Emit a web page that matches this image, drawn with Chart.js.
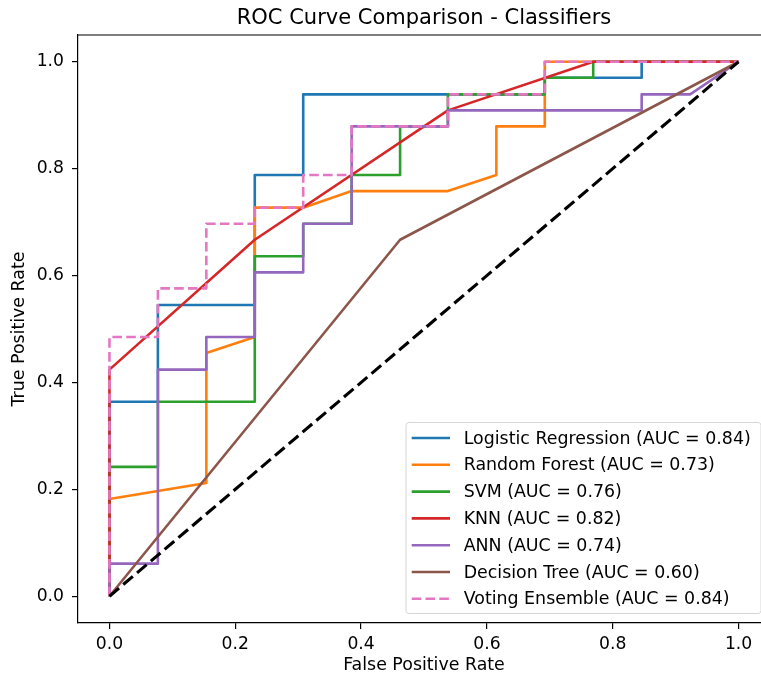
<!DOCTYPE html>
<html>
<head>
<meta charset="utf-8">
<script src="https://cdn.jsdelivr.net/npm/chart.js@4.4.1/dist/chart.umd.min.js"></script>
<style>
html,body{margin:0;padding:0;background:#fff;overflow:hidden;}
#wrap{width:800px;height:682px;}
</style>
</head>
<body>
<div id="wrap"><canvas id="c" width="800" height="682"></canvas></div>
<script>
// ---------- data ----------
const chartTitle = 'ROC Curve Comparison - Classifiers';
const modelNames = ['Logistic Regression', 'Random Forest', 'SVM', 'KNN', 'ANN', 'Decision Tree', 'Voting Ensemble'];
const aucValues = ['0.84', '0.73', '0.76', '0.82', '0.74', '0.60', '0.84'];
const modelColors = ['#1f77b4', '#ff7f0e', '#2ca02c', '#d62728', '#9467bd', '#8c564b', '#e377c2'];

const lrFpr = [0, 0, 0.077, 0.077, 0.231, 0.231, 0.308, 0.308, 0.692, 0.692, 0.846, 0.846, 1];
const lrTpr = [0, 0.364, 0.364, 0.545, 0.545, 0.788, 0.788, 0.939, 0.939, 0.970, 0.970, 1, 1];

const rfFpr = [0, 0, 0.154, 0.154, 0.231, 0.231, 0.308, 0.385, 0.538, 0.615, 0.615, 0.692, 0.692, 1];
const rfTpr = [0, 0.182, 0.212, 0.455, 0.485, 0.727, 0.727, 0.758, 0.758, 0.788, 0.879, 0.879, 1, 1];

const svmFpr = [0, 0, 0.077, 0.077, 0.231, 0.231, 0.308, 0.308, 0.385, 0.385, 0.462, 0.462, 0.538, 0.538, 0.692, 0.692, 0.769, 0.769, 1];
const svmTpr = [0, 0.242, 0.242, 0.364, 0.364, 0.636, 0.636, 0.697, 0.697, 0.788, 0.788, 0.879, 0.879, 0.939, 0.939, 0.970, 0.970, 1, 1];

const knnFpr = [0, 0, 0.231, 0.538, 0.769, 1];
const knnTpr = [0, 0.424, 0.667, 0.909, 1, 1];

const annFpr = [0, 0, 0.077, 0.077, 0.154, 0.154, 0.231, 0.231, 0.308, 0.308, 0.385, 0.385, 0.538, 0.538, 0.846, 0.846, 0.923, 1];
const annTpr = [0, 0.061, 0.061, 0.424, 0.424, 0.485, 0.485, 0.606, 0.606, 0.697, 0.697, 0.879, 0.879, 0.909, 0.909, 0.939, 0.939, 1];

const dtFpr = [0, 0.462, 1];
const dtTpr = [0, 0.667, 1];

const veFpr = [0, 0, 0.077, 0.077, 0.154, 0.154, 0.231, 0.231, 0.308, 0.308, 0.385, 0.385, 0.538, 0.538, 0.692, 0.692, 1];
const veTpr = [0, 0.485, 0.485, 0.576, 0.576, 0.697, 0.697, 0.727, 0.727, 0.788, 0.788, 0.879, 0.879, 0.939, 0.939, 1, 1];

const chanceFpr = [0, 1];
const chanceTpr = [0, 1];

const xTickValues = [0, 0.2, 0.4, 0.6, 0.8, 1.0];
const yTickValues = [0, 0.2, 0.4, 0.6, 0.8, 1.0];

const fprList = [lrFpr, rfFpr, svmFpr, knnFpr, annFpr, dtFpr, veFpr];
const tprList = [lrTpr, rfTpr, svmTpr, knnTpr, annTpr, dtTpr, veTpr];

// ---------- build ----------
const FONT = 'DejaVu Sans';
const toPts = (xs, ys) => xs.map((x, i) => ({x: x, y: ys[i]}));

const datasets = modelNames.map((name, i) => ({
  label: name + ' (AUC = ' + aucValues[i] + ')',
  data: toPts(fprList[i], tprList[i]),
  borderColor: modelColors[i],
  backgroundColor: modelColors[i],
  borderWidth: 2.6,
  borderDash: name === 'Voting Ensemble' ? [9.6, 4.2] : [],
  borderJoinStyle: 'round',
  showLine: true,
  pointRadius: 0,
  fill: false,
  tension: 0,
  order: modelNames.length - i
}));
datasets.push({
  label: '_chance',
  data: toPts(chanceFpr, chanceTpr),
  borderColor: '#000',
  borderWidth: 3.1,
  borderDash: [12.6, 5.5],
  showLine: true,
  pointRadius: 0,
  fill: false,
  order: 0
});

const framePlugin = {
  id: 'frame',
  afterDraw(chart) {
    const {ctx, chartArea: a} = chart;
    ctx.save();
    ctx.strokeStyle = '#000';
    ctx.lineWidth = 1.2;
    ctx.beginPath();
    ctx.moveTo(a.left, a.top);
    ctx.lineTo(a.right, a.top);
    ctx.lineTo(a.right, a.bottom);
    ctx.stroke();
    // title centred over the plot area
    ctx.fillStyle = '#000';
    ctx.font = '21px "' + FONT + '"';
    ctx.textAlign = 'center';
    ctx.textBaseline = 'alphabetic';
    ctx.fillText(chartTitle, (a.left + a.right) / 2, 24);
    ctx.restore();
  }
};

const legendPlugin = {
  id: 'innerLegend',
  afterDraw(chart) {
    const {ctx, chartArea: a} = chart;
    const items = chart.data.datasets.filter(d => !d.label.startsWith('_'));
    const w = 355, rowH = 26.8;
    const h = 191;
    const right = a.right - 9, bottom = a.bottom - 9.5;
    const left = right - w, top = bottom - h;
    ctx.save();
    const r = 3;
    ctx.beginPath();
    ctx.moveTo(left + r, top);
    ctx.lineTo(right - r, top);
    ctx.quadraticCurveTo(right, top, right, top + r);
    ctx.lineTo(right, bottom - r);
    ctx.quadraticCurveTo(right, bottom, right - r, bottom);
    ctx.lineTo(left + r, bottom);
    ctx.quadraticCurveTo(left, bottom, left, bottom - r);
    ctx.lineTo(left, top + r);
    ctx.quadraticCurveTo(left, top, left + r, top);
    ctx.closePath();
    ctx.fillStyle = 'rgba(255,255,255,0.8)';
    ctx.fill();
    ctx.strokeStyle = '#d6d6d6';
    ctx.lineWidth = 1;
    ctx.stroke();
    ctx.font = '17.4px "' + FONT + '"';
    ctx.textBaseline = 'middle';
    ctx.textAlign = 'left';
    items.forEach((d, i) => {
      const y = top + 15.5 + i * rowH;
      ctx.strokeStyle = d.borderColor;
      ctx.lineWidth = d.borderWidth;
      ctx.setLineDash(d.borderDash || []);
      ctx.beginPath();
      ctx.moveTo(left + 5.7, y);
      ctx.lineTo(left + 44, y);
      ctx.stroke();
      ctx.setLineDash([]);
      ctx.fillStyle = '#000';
      ctx.fillText(d.label, left + 57.7, y + 1);
    });
    ctx.restore();
  }
};

const tickFont = {family: FONT, size: 17.2};
const titleFont = {family: FONT, size: 17.4};

new Chart(document.getElementById('c'), {
  type: 'scatter',
  data: {datasets: datasets},
  plugins: [framePlugin, legendPlugin],
  options: {
    responsive: false,
    animation: false,
    devicePixelRatio: 1,
    layout: {padding: {left: 0, right: 30, top: 35, bottom: 0}},
    plugins: {
      legend: {display: false},
      tooltip: {enabled: false},
      title: {display: false}
    },
    scales: {
      x: {
        type: 'linear',
        min: -0.05, max: 1.05,
        afterFit(s) { s.height = 59; },
        afterBuildTicks(s) { s.ticks = xTickValues.map(v => ({value: v})); },
        ticks: {color: '#000', font: tickFont, padding: 5, maxRotation: 0,
                callback: v => Number(v).toFixed(1)},
        grid: {display: true, drawOnChartArea: false, drawTicks: true, tickLength: 6, color: '#000', lineWidth: 1.2},
        border: {display: true, color: '#000', width: 1.2},
        title: {display: true, text: 'False Positive Rate', color: '#000', font: titleFont,
                padding: {top: 0, bottom: 5.6}}
      },
      y: {
        type: 'linear',
        min: -0.05, max: 1.05,
        afterFit(s) { s.width = 78; },
        afterBuildTicks(s) { s.ticks = yTickValues.map(v => ({value: v})); },
        ticks: {color: '#000', font: tickFont, padding: 8,
                callback: v => Number(v).toFixed(1)},
        grid: {display: true, drawOnChartArea: false, drawTicks: true, tickLength: 6, color: '#000', lineWidth: 1.2},
        border: {display: true, color: '#000', width: 1.2},
        title: {display: true, text: 'True Positive Rate', color: '#000', font: titleFont,
                padding: {top: 9.4, bottom: 0}}
      }
    }
  }
});
</script>
</body>
</html>
